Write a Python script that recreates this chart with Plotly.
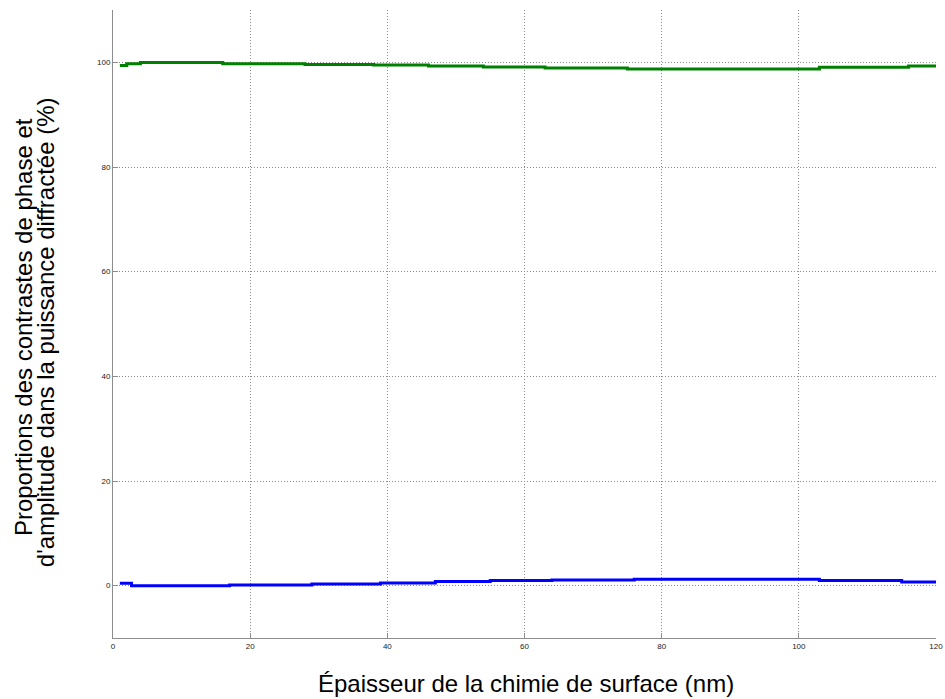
import plotly.graph_objects as go

# Phase contrast proportion (green) - step breakpoints
green_x = [1, 2, 4, 16, 28, 38, 46, 54, 63, 75, 103, 116, 120]
green_y = [99.4, 99.75, 99.95, 99.75, 99.6, 99.5, 99.3, 99.1, 98.9, 98.75, 99.05, 99.3, 99.3]

# Amplitude contrast proportion (blue) - step breakpoints
blue_x = [1, 2.7, 17, 29, 39, 47, 55, 64, 76, 103, 115, 120]
blue_y = [0.45, 0.0, 0.15, 0.3, 0.5, 0.8, 1.0, 1.1, 1.25, 1.0, 0.7, 0.7]

x_ticks = [0, 20, 40, 60, 80, 100, 120]
y_ticks = [0, 20, 40, 60, 80, 100]

x_title = "Épaisseur de la chimie de surface (nm)"
y_title_1 = "Proportions des contrastes de phase et"
y_title_2 = "d'amplitude dans la puissance diffractée (%)"

fig = go.Figure()
fig.add_trace(go.Scatter(x=green_x, y=green_y, mode="lines", line=dict(color="#008000", width=3, shape="hv"), showlegend=False))
fig.add_trace(go.Scatter(x=blue_x, y=blue_y, mode="lines", line=dict(color="#0000ff", width=3, shape="hv"), showlegend=False))

axis_common = dict(
    showgrid=True, gridcolor="#8c8c8c", griddash="1px,2px", gridwidth=1,
    showline=True, linecolor="#8c8c8c", linewidth=1,
    ticks="inside", ticklen=5, tickcolor="#8c8c8c",
    zeroline=False, automargin=False,
    tickfont=dict(family="Liberation Sans, Arial", size=8, color="#222"),
)

fig.update_layout(
    width=945, height=699,
    margin=dict(l=113, r=9, t=10, b=61),
    paper_bgcolor="white", plot_bgcolor="white",
    font=dict(family="Liberation Sans, Arial", color="black"),
    xaxis=dict(range=[0, 120], tickvals=x_ticks, ticktext=[str(v) for v in x_ticks], **axis_common),
    yaxis=dict(range=[-10, 110], tickvals=y_ticks, ticktext=[str(v) for v in y_ticks], **axis_common),
)

fig.add_annotation(text=x_title, xref="paper", yref="paper", x=0.502, y=-0.073,
                   xanchor="center", yanchor="middle", showarrow=False,
                   font=dict(size=24, family="Liberation Sans, Arial", color="black"))
fig.add_annotation(text=y_title_1, xref="paper", yref="paper", x=-0.1094, y=0.495,
                   xanchor="center", yanchor="middle", textangle=-90, showarrow=False,
                   font=dict(size=24, family="Liberation Sans, Arial", color="black"))
fig.add_annotation(text=y_title_2, xref="paper", yref="paper", x=-0.0826, y=0.487,
                   xanchor="center", yanchor="middle", textangle=-90, showarrow=False,
                   font=dict(size=24, family="Liberation Sans, Arial", color="black"))

# remove the default page margin so the figure fills the window exactly
fig.write_html("out.html",
               config={"displayModeBar": False},
               post_script="document.body.style.margin='0';document.body.style.overflow='hidden';")
